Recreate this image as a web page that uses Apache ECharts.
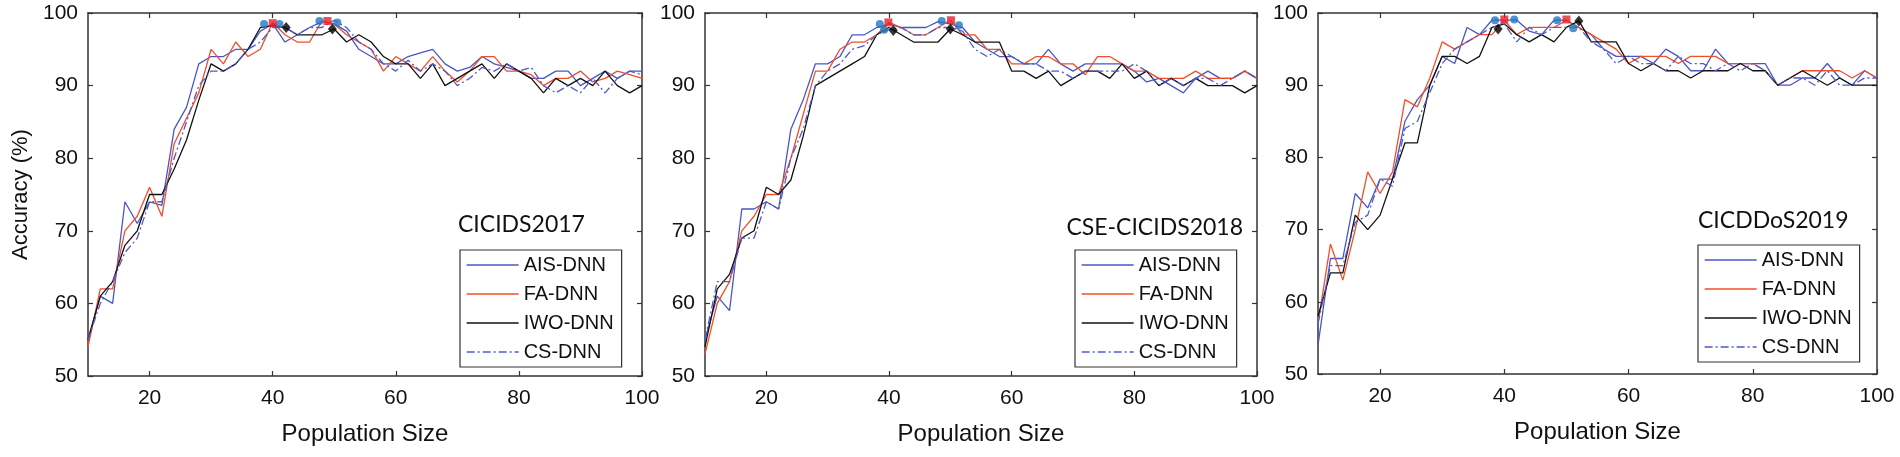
<!DOCTYPE html>
<html><head><meta charset="utf-8">
<script src="https://cdn.jsdelivr.net/npm/echarts@6/dist/echarts.min.js"></script>
<style>html,body{margin:0;padding:0;background:#fff}#c{width:1900px;height:457px}</style>
</head><body><div id="c"></div>
<script>
// ---- data ----
const xs = [10,12,14,16,18,20,22,24,26,28,30,32,34,36,38,40,42,44,46,48,50,52,54,56,58,60,62,64,66,68,70,72,74,76,78,80,82,84,86,88,90,92,94,96,98,100];
const seriesNames = ['AIS-DNN','FA-DNN','IWO-DNN','CS-DNN'];
const panelTitles = ['CICIDS2017','CSE-CICIDS2018','CICDDoS2019'];
const xTickValues = [20,40,60,80,100];
const yTickValues = [50,60,70,80,90,100];

// Panel 1: CICIDS2017
const p1AIS = [55,61,60,74,71,74,73.5,84,87,93,94,94,95,95,97.5,98.5,96,97,98,98.8,98.5,97.5,95,94,93,93,94,94.5,95,93,92,92.5,94,93,92.5,92,91,91,92,92,90,91,92,91,92,92];
const p1FA  = [54,62,62,70,72,76,72,82,85.5,89,95,93,96,94,95,98.7,97,96,96,98.9,98.5,97,96,95,92,94,93,92,94,92,90.5,92,94,94,92,92,91.5,90,91,91,92,90.5,91,92,91.5,91];
const p1IWO = [55,61,63,68,70,75,75,78.5,82.5,88,93,92,93,95,98,98.3,98,97,97,97,97.8,96,97,96,94,93,93,91,93,90,91,92,93,91,93,92,91,89,91,90,91,90,92,90,89,90];
const p1CS  = [55,60,63,67,69,74,74,80,85,90,92,92,93,95,96,98,98,97,98,98,99,98,96,95,93,92,93.5,92,93,92,90,91,92.5,92,93,92,92.5,90,89,90,89,91,89,91,92,91.5];
// Panel 2: CSE-CICIDS2018
const p2AIS = [55,61,59,73,73,74,73,84,88,93,93,94,97,97,98,98.5,98,98,98,98.8,98.5,98,96,95,94,94,93,93,95,93,92,93,93,93,93,92,90.5,91,90,89,91,92,91,91,92,91];
const p2FA  = [53,60,63,70,72,75,75,80,86,92,92,95,96,96,97,98.7,98,97,97,98,99,97,97,95,95,93,93,94,94,93,93,91.5,94,94,93,92,92,91,91,91,92,91,91,91,92,91];
const p2IWO = [54,62,64,69,70,76,75,77,83,90,91,92,93,94,97,98,97,96,96,96,97.8,97,96,96,96,92,92,91,92,90,91,92,92,91,93,91,92,90,91,90,91,90,90,90,89,90];
const p2CS  = [55,63,63,69,69,74,73,80,84,90,92,93,95,95.5,97,97.7,98,97,97,98,98,97.5,95,94,95,94,93,93,92,92,91,92,92,92,92,93,92,90,91,90,91,91,90,91,92,91];
// Panel 3: CICDDoS2019
const p3AIS = [54,66,66,75,73,77,77,85,88,90,94,93,98,97,99,99,99,97.5,97,99,99,98,97,95,94,94,94,93,95,94,92,92,95,93,93,93,93,90,90,91,91,93,91,90,92,91];
const p3FA  = [57,68,63,70,78,75,78,88,87,91,96,95,96,97,97,99,97,98,98,98,99,98,97,96,95,93,94,94,94,93,94,94,94,93,93,93,92,90,91,92,92,92,92,91,92,91];
const p3IWO = [58,64,64,72,70,72,77,82,82,90,94,94,93,94,98,98.5,97,96,97,96,98,98.9,96,96,96,93,92,93,92,92,91,92,92,92,93,92,92,90,91,92,91,90,91,90,90,90];
const p3CS  = [57,65,65,71,72,77,76,84,85,89,93,95,96,97,98,98.5,96,98,97,98,98,98,96,95,93,94,93,93,92,94,93,93,92,93,92,93,92,90,91,91,90,92,90,90,91,91];

// peak markers [x, y]
const p1Circles  = [[38.6,98.5],[41.1,98.5],[47.6,98.9],[50.5,98.7]];
const p1Squares  = [[40,98.6],[48.9,98.9]];
const p1Diamonds = [[42.2,98],[49.7,97.8]];
const p2Circles  = [[38.5,98.5],[39.2,97.7],[48.6,98.9],[51.4,98.3]];
const p2Squares  = [[39.9,98.7],[50.1,99]];
const p2Diamonds = [[40.7,97.6],[50,97.8]];
const p3Circles  = [[38.5,99],[41.6,99.1],[48.5,99],[51.1,97.9]];
const p3Squares  = [[40,99.1],[50,99.1]];
const p3Diamonds = [[39,97.8],[52,98.9]];

const panelData = [[p1AIS,p1FA,p1IWO,p1CS],[p2AIS,p2FA,p2IWO,p2CS],[p3AIS,p3FA,p3IWO,p3CS]];
const panelMarkers = [[p1Circles,p1Squares,p1Diamonds],[p2Circles,p2Squares,p2Diamonds],[p3Circles,p3Squares,p3Diamonds]];

// ---- styles / layout ----
const FONT = 'Liberation Sans';
const lineStyles = [
  {color:'#4a56c6', width:1.3, type:'solid'},
  {color:'#f24e28', width:1.3, type:'solid'},
  {color:'#111111', width:1.3, type:'solid'},
  {color:'#4f5ac8', width:1.3, type:[8,3,2,3]}
];
const grids = [
  {left:88, top:13, width:554, height:363},
  {left:705, top:13, width:552, height:363},
  {left:1318, top:13, width:559, height:361}
];
const legendPos = [{left:460, top:250},{left:1075, top:250},{left:1698, top:245}];
const titlePos = [{left:458, top:213},{right:657, top:216},{left:1698, top:209}];
const axisColor = '#333';

const xAxis = [], yAxis = [], series = [], legend = [], title = [];
grids.forEach((g, p) => {
  xAxis.push({
    gridIndex:p, type:'value', min:10, max:100, position:'bottom',
    name: 'Population Size', nameLocation:'middle', nameGap:46,
    nameTextStyle:{fontSize:24, fontFamily:FONT, color:'#111'},
    axisLine:{show:true, onZero:false, lineStyle:{color:axisColor, width:1.5}},
    axisTick:{show:true, inside:true, length:5, customValues:xTickValues, lineStyle:{color:axisColor, width:1.2}},
    axisLabel:{customValues:xTickValues, fontSize:21, fontFamily:FONT, color:'#111', margin:12},
    splitLine:{show:false}
  });
  xAxis.push({
    gridIndex:p, type:'value', min:10, max:100, position:'top',
    axisLine:{show:true, onZero:false, lineStyle:{color:axisColor, width:1.5}},
    axisTick:{show:true, inside:true, length:5, customValues:xTickValues, lineStyle:{color:axisColor, width:1.2}},
    axisLabel:{show:false}, splitLine:{show:false}
  });
  yAxis.push({
    gridIndex:p, type:'value', min:50, max:100, interval:10, position:'left',
    name: p===0 ? 'Accuracy (%)' : '', nameLocation:'middle', nameGap:56,
    nameTextStyle:{fontSize:22, fontFamily:FONT, color:'#111'},
    axisLine:{show:true, onZero:false, lineStyle:{color:axisColor, width:1.5}},
    axisTick:{show:true, inside:true, length:5, lineStyle:{color:axisColor, width:1.2}},
    axisLabel:{fontSize:21, fontFamily:FONT, color:'#111', margin:10},
    splitLine:{show:false}
  });
  yAxis.push({
    gridIndex:p, type:'value', min:50, max:100, interval:10, position:'right',
    axisLine:{show:true, onZero:false, lineStyle:{color:axisColor, width:1.5}},
    axisTick:{show:true, inside:true, length:5, lineStyle:{color:axisColor, width:1.2}},
    axisLabel:{show:false}, splitLine:{show:false}
  });
  panelData[p].forEach((arr, s) => {
    series.push({
      type:'line', name:seriesNames[s], xAxisIndex:2*p, yAxisIndex:2*p,
      data: xs.map((x,i)=>[x, arr[i]]),
      symbol:'none', lineStyle:lineStyles[s], itemStyle:{color:lineStyles[s].color},
      animation:false, z:2
    });
  });
  const [circ, sq, dia] = panelMarkers[p];
  series.push({type:'scatter', name:'peakCircle', xAxisIndex:2*p, yAxisIndex:2*p, data:circ,
    symbol:'circle', symbolSize:8, itemStyle:{color:'#1f78c4'}, z:5, animation:false});
  series.push({type:'scatter', name:'peakSquare', xAxisIndex:2*p, yAxisIndex:2*p, data:sq,
    symbol:'rect', symbolSize:8, itemStyle:{color:'#e8212b'}, z:5, animation:false});
  series.push({type:'scatter', name:'peakDiamond', xAxisIndex:2*p, yAxisIndex:2*p, data:dia,
    symbol:'diamond', symbolSize:[9,11], itemStyle:{color:'#000'}, z:6, animation:false});
  legend.push(Object.assign({
    data: seriesNames, orient:'vertical', itemWidth:52, itemHeight:14, itemGap:9,
    padding:[5,8,5,6], borderColor:'#333', borderWidth:1.2, backgroundColor:'#fff',
    selectedMode:false,
    itemStyle:{opacity:0, borderWidth:0},
    lineStyle:{width:1.3},
    textStyle:{fontSize:20, fontFamily:FONT, color:'#111'}
  }, legendPos[p]));
  title.push(Object.assign({
    text: panelTitles[p], padding:0,
    textStyle:{fontSize:23, fontFamily:'Lato', fontWeight:'normal', color:'#111'}
  }, titlePos[p]));
});

const chart = echarts.init(document.getElementById('c'), null, {renderer:'canvas'});
chart.setOption({
  backgroundColor:'#fff', animation:false,
  grid: grids.map(g => Object.assign({containLabel:false}, g)),
  xAxis, yAxis, series, legend, title
});
</script></body></html>
